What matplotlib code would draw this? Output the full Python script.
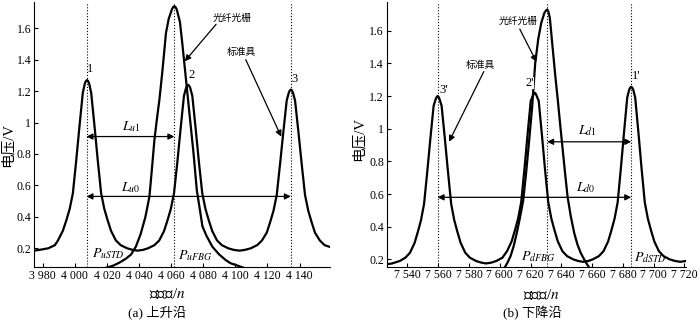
import matplotlib
matplotlib.use('Agg')
from matplotlib import pyplot as plt

plt.rcParams['font.family'] = ['Liberation Serif', 'Noto Sans CJK SC']
plt.rcParams['mathtext.fontset'] = 'stix'

# ---- (a) rising edge ----
a_std_x = [3974.6, 3978, 3983.5, 3987.6, 3989.5, 3992.5, 3994.8, 3996.8, 3998.8, 4000.9,
           4002.9, 4005.0, 4006.3, 4007.0, 4007.6, 4008.2, 4008.9, 4010.2, 4012.3, 4014.3,
           4016.4, 4018.4, 4020.4, 4022.6, 4025.6, 4028.6, 4032.6, 4036, 4039.1, 4042.5,
           4045.6, 4049.6, 4052.6, 4055.6, 4057.8, 4059.8, 4061.8, 4063.9, 4065.9, 4068.0,
           4069.3, 4070.0, 4070.6, 4071.2, 4071.9, 4073.2, 4075.3, 4077.3, 4079.4, 4081.4,
           4083.4, 4085.6, 4088.6, 4091.6, 4095.6, 4099, 4102.6, 4106, 4109.6, 4113.6,
           4116.6, 4119.6, 4121.8, 4123.8, 4125.8, 4127.9, 4129.9, 4132.0, 4133.3, 4134.0,
           4134.6, 4135.2, 4135.9, 4137.2, 4139.3, 4141.3, 4143.4, 4145.4, 4147.4, 4149.6,
           4152.6, 4155.6, 4158.5]
a_std_y = [0.185, 0.19, 0.2, 0.22, 0.25, 0.31, 0.38, 0.45, 0.55, 0.76,
           0.975, 1.19, 1.25, 1.265, 1.27, 1.265, 1.25, 1.19, 0.975, 0.76,
           0.55, 0.45, 0.38, 0.31, 0.25, 0.22, 0.2, 0.19, 0.185, 0.19,
           0.2, 0.22, 0.25, 0.31, 0.38, 0.45, 0.55, 0.75, 0.96, 1.17,
           1.22, 1.235, 1.24, 1.235, 1.22, 1.17, 0.96, 0.75, 0.55, 0.45,
           0.38, 0.31, 0.25, 0.22, 0.2, 0.19, 0.185, 0.19, 0.2, 0.22,
           0.25, 0.3, 0.37, 0.44, 0.54, 0.74, 0.94, 1.14, 1.19, 1.205,
           1.21, 1.205, 1.19, 1.14, 0.94, 0.74, 0.54, 0.44, 0.37, 0.3,
           0.25, 0.22, 0.21]
a_fbg_x = [4019, 4021, 4024, 4028, 4032, 4035, 4038, 4041, 4044, 4046.5,
           4048, 4049.6, 4051, 4052.7, 4054.5, 4056.8, 4058.5, 4060.5, 4061.3, 4062,
           4062.7, 4063.5, 4065.5, 4067, 4068.2, 4070, 4072, 4074, 4076, 4078,
           4079.5, 4082, 4085.7, 4090, 4094, 4097, 4100.2, 4104, 4107]
a_fbg_y = [0.075, 0.08, 0.09, 0.11, 0.135, 0.16, 0.21, 0.29, 0.4, 0.53,
           0.7, 0.89, 1.01, 1.145, 1.32, 1.57, 1.66, 1.72, 1.735, 1.74,
           1.735, 1.72, 1.64, 1.5, 1.38, 1.2, 1.0, 0.8, 0.57, 0.44,
           0.34, 0.28, 0.21, 0.16, 0.125, 0.105, 0.094, 0.08, 0.07]
a_peaks = [4007.3, 4062, 4134.6]
a_xticks = [3980, 4000, 4020, 4040, 4060, 4080, 4100, 4120, 4140]
a_xlabels = ['3 980', '4 000', '4 020', '4 040', '4 060', '4 080', '4 100', '4 120', '4 140']

# ---- (b) falling edge ----
b_std_x = [7526.5, 7530, 7535, 7538.6, 7541.6, 7544.6, 7546.8, 7548.8, 7550.8, 7552.9,
           7554.9, 7557.0, 7558.3, 7559.0, 7559.6, 7560.2, 7560.9, 7562.2, 7564.3, 7566.3,
           7568.4, 7570.4, 7572.4, 7574.6, 7577.6, 7580.6, 7584.6, 7588, 7591, 7594.5,
           7597.7, 7601.7, 7604.7, 7607.7, 7609.9, 7611.9, 7613.9, 7616.0, 7618.0, 7620.1,
           7621.4, 7622.1, 7622.7, 7623.3, 7624.0, 7625.3, 7627.4, 7629.4, 7631.5, 7633.5,
           7635.5, 7637.7, 7640.7, 7643.7, 7647.7, 7651, 7654, 7657.5, 7660.4, 7664.4,
           7667.4, 7670.4, 7672.6, 7674.6, 7676.6, 7678.7, 7680.7, 7682.8, 7684.1, 7684.8,
           7685.4, 7686.0, 7686.7, 7688.0, 7690.1, 7692.1, 7694.2, 7696.2, 7698.2, 7700.4,
           7703.4, 7706.4, 7710.4, 7714, 7717.2, 7721]
b_std_y = [0.17, 0.175, 0.19, 0.21, 0.24, 0.3, 0.37, 0.44, 0.54, 0.74,
           0.94, 1.14, 1.18, 1.195, 1.2, 1.195, 1.18, 1.14, 0.94, 0.74,
           0.54, 0.44, 0.37, 0.3, 0.24, 0.21, 0.19, 0.18, 0.175, 0.18,
           0.19, 0.21, 0.25, 0.31, 0.38, 0.45, 0.55, 0.75, 0.96, 1.17,
           1.2, 1.215, 1.22, 1.215, 1.2, 1.17, 0.96, 0.75, 0.55, 0.45,
           0.38, 0.31, 0.25, 0.22, 0.2, 0.19, 0.185, 0.19, 0.2, 0.22,
           0.25, 0.31, 0.38, 0.45, 0.55, 0.76, 0.975, 1.19, 1.24, 1.252,
           1.257, 1.252, 1.24, 1.19, 0.975, 0.76, 0.55, 0.45, 0.38, 0.31,
           0.25, 0.22, 0.2, 0.19, 0.185, 0.19]
b_fbg_x = [7601, 7603.5, 7605, 7607, 7609, 7611, 7613, 7615.2, 7617, 7619,
           7621, 7623, 7625, 7627, 7629, 7630.1, 7630.8, 7631.5, 7632.5, 7634.5,
           7636, 7637.7, 7639.3, 7640.9, 7642.5, 7644.1, 7646.2, 7648.4, 7650.5, 7652.7,
           7656, 7659.1, 7662]
b_fbg_y = [0.12, 0.155, 0.18, 0.22, 0.28, 0.36, 0.45, 0.56, 0.72, 0.92,
           1.13, 1.4, 1.55, 1.65, 1.71, 1.725, 1.73, 1.72, 1.68, 1.48,
           1.33, 1.175, 1.02, 0.87, 0.72, 0.58, 0.46, 0.36, 0.29, 0.237,
           0.18, 0.135, 0.1]
b_peaks = [7559.6, 7630.8, 7685.4]
b_xticks = [7540, 7560, 7580, 7600, 7620, 7640, 7660, 7680, 7700, 7720]
b_xlabels = ['7 540', '7 560', '7 580', '7 600', '7 620', '7 640', '7 660', '7 680', '7 700', '7 720']

yticks = [0.2, 0.4, 0.6, 0.8, 1.0, 1.2, 1.4, 1.6]
ylabels = ['0.2', '0.4', '0.6', '0.8', '1', '1.2', '1.4', '1.6']


def base(ax, sx, sy, fx, fy, peaks, xt, xl, xlim, ylim):
    ax.plot(sx, sy, color='k', lw=1.6, solid_joinstyle='round')
    ax.plot(fx, fy, color='k', lw=1.6, solid_joinstyle='round')
    for p in peaks:
        ax.axvline(p, color='k', ls=':', lw=0.8)
    ax.set_xlim(*xlim)
    ax.set_ylim(*ylim)
    ax.set_xticks(xt)
    ax.set_xticklabels(xl)
    ax.set_yticks(yticks)
    ax.set_yticklabels(ylabels)
    ax.spines[['top', 'right']].set_visible(False)
    ax.tick_params(direction='in', length=3, width=0.8, labelsize=8.5, pad=2)


def darrow(ax, x0, x1, y):
    ax.annotate('', xy=(x1, y), xytext=(x0, y),
                arrowprops=dict(arrowstyle='<|-|>', color='k', lw=0.9,
                                mutation_scale=9, shrinkA=0, shrinkB=0))


def arrow(ax, x0, y0, x1, y1):
    ax.annotate('', xy=(x1, y1), xytext=(x0, y0),
                arrowprops=dict(arrowstyle='-|>', color='k', lw=0.9,
                                mutation_scale=9, shrinkA=0, shrinkB=0))


fig = plt.figure(figsize=(7, 3.22), dpi=100)
ax1 = fig.add_axes([0.0486, 0.1708, 0.4229, 0.823])
ax2 = fig.add_axes([0.5524, 0.1717, 0.4276, 0.822])

base(ax1, a_std_x, a_std_y, a_fbg_x, a_fbg_y, a_peaks, a_xticks, a_xlabels,
     (3974.6, 4159), (0.081, 1.767))
base(ax2, b_std_x, b_std_y, b_fbg_x, b_fbg_y, b_peaks, b_xticks, b_xlabels,
     (7526.5, 7721), (0.155, 1.776))

wb = dict(facecolor='white', edgecolor='none', pad=0.3)

# panel (a) annotations
ax1.text(4009.5, 1.34, '1', fontsize=9, ha='center', va='center')
ax1.text(4072.5, 1.30, '2', fontsize=9, ha='center', va='center', bbox=wb)
ax1.text(4137, 1.28, '3', fontsize=9, ha='center', va='center')
darrow(ax1, a_peaks[0], a_peaks[1], 0.911)
darrow(ax1, a_peaks[0], a_peaks[2], 0.53)
ax1.text(4035, 0.975, '$L_{u1}$', fontsize=10, ha='center', va='center')
ax1.text(4035, 0.585, '$L_{u0}$', fontsize=10, ha='center', va='center')
ax1.text(4010.5, 0.165, '$P_{uSTD}$', fontsize=10, ha='left', va='center')
ax1.text(4064, 0.155, '$P_{uFBG}$', fontsize=10, ha='left', va='center')
ax1.text(4098, 1.665, '光纤光栅', fontsize=7, ha='center', va='center')
arrow(ax1, 4088, 1.625, 4068.5, 1.39)
ax1.text(4104, 1.445, '标准具', fontsize=7, ha='center', va='center')
arrow(ax1, 4106.5, 1.40, 4128.6, 0.91)

# panel (b) annotations
ax2.text(7563.5, 1.24, "3'", fontsize=9, ha='center', va='center')
ax2.text(7619.5, 1.28, "2'", fontsize=9, ha='center', va='center', bbox=wb)
ax2.text(7688.5, 1.32, "1'", fontsize=9, ha='center', va='center')
darrow(ax2, b_peaks[1], b_peaks[2], 0.92)
darrow(ax2, b_peaks[0], b_peaks[2], 0.58)
ax2.text(7657, 0.99, '$L_{d1}$', fontsize=10, ha='center', va='center')
ax2.text(7656, 0.64, '$L_{d0}$', fontsize=10, ha='center', va='center')
ax2.text(7614, 0.215, '$P_{dFBG}$', fontsize=10, ha='left', va='center')
ax2.text(7687, 0.21, '$P_{dSTD}$', fontsize=10, ha='left', va='center')
ax2.text(7612, 1.655, '光纤光栅', fontsize=7, ha='center', va='center')
arrow(ax2, 7613, 1.61, 7623.8, 1.41)
ax2.text(7587.5, 1.39, '标准具', fontsize=7, ha='center', va='center')
arrow(ax2, 7589.6, 1.35, 7567, 0.92)

# axis titles and captions
fig.text(0.011, 0.55, '电压/V', rotation=90, fontsize=10.5, ha='center', va='center')
fig.text(0.512, 0.568, '电压/V', rotation=90, fontsize=10.5, ha='center', va='center')
fig.text(0.2386, 0.088, '采样点/$n$', fontsize=11, ha='center', va='center')
fig.text(0.773, 0.084, '采样点/$n$', fontsize=11, ha='center', va='center')
fig.text(0.224, 0.028, '(a) 上升沿', fontsize=9.5, ha='center', va='center')
fig.text(0.761, 0.028, '(b) 下降沿', fontsize=9.5, ha='center', va='center')

fig.savefig('out.png', dpi=100)
plt.close(fig)
